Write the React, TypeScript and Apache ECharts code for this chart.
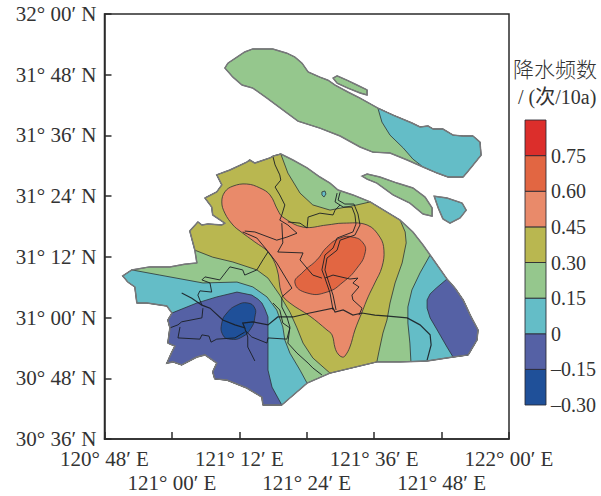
import React, { useEffect, useRef } from "react";
import * as echarts from "echarts";

type P = number[];

const xTickLabels = ["120° 48′ E", "121° 00′ E", "121° 12′ E", "121° 24′ E", "121° 36′ E", "121° 48′ E", "122° 00′ E"];
const yTickLabels = ["30° 36′ N", "30° 48′ N", "31° 00′ N", "31° 12′ N", "31° 24′ N", "31° 36′ N", "31° 48′ N", "32° 00′ N"];
const legendTickLabels = ["–0.30", "–0.15", "0", "0.15", "0.30", "0.45", "0.60", "0.75", ""];
const legendEdges = [-0.3, -0.15, 0, 0.15, 0.3, 0.45, 0.6, 0.75, 0.9];
const legendColors = ["#1F5099", "#5561A5", "#64BDC7", "#95C78D", "#B9B750", "#E98A6A", "#E26642", "#DC2E2B"];
const legendTitle = "降水频数";
const legendUnit = "/ (次/10a)";

// lon, lat in degrees
const mainlandCoast: P[] = [
  [121.323, 31.539], [121.359, 31.519], [121.401, 31.493], [121.439, 31.463], [121.469, 31.443], [121.493, 31.42],
  [121.537, 31.404], [121.588, 31.381], [121.677, 31.321], [121.715, 31.282], [121.745, 31.239], [121.766, 31.206],
  [121.816, 31.127], [121.84, 31.097], [121.864, 31.058], [121.885, 31.008], [121.908, 30.959], [121.905, 30.926],
  [121.879, 30.877], [121.834, 30.87], [121.757, 30.857], [121.677, 30.854], [121.608, 30.854], [121.469, 30.817],
  [121.401, 30.784], [121.35, 30.735], [121.326, 30.712], [121.27, 30.712], [121.267, 30.738], [121.222, 30.768],
  [121.163, 30.794], [121.127, 30.798], [121.121, 30.821], [121.133, 30.85], [121.098, 30.877], [121.074, 30.87],
  [121.029, 30.844], [121.003, 30.854], [120.985, 30.85], [121.0, 30.887], [121.009, 30.906], [120.988, 30.916],
  [120.994, 30.966], [120.988, 30.992], [121.0, 31.015], [120.985, 31.038], [120.926, 31.048], [120.896, 31.048],
  [120.89, 31.101], [120.869, 31.117], [120.854, 31.137], [120.881, 31.157], [120.934, 31.167], [120.994, 31.167],
  [121.038, 31.176], [121.074, 31.18], [121.068, 31.222], [121.053, 31.285], [121.077, 31.315], [121.089, 31.305],
  [121.107, 31.308], [121.148, 31.305], [121.157, 31.311], [121.121, 31.338], [121.118, 31.364], [121.098, 31.394],
  [121.133, 31.414], [121.148, 31.437], [121.133, 31.47], [121.172, 31.486], [121.222, 31.512], [121.231, 31.519],
  [121.246, 31.509], [121.291, 31.526], [121.3, 31.532],
];
const northWedgeEdge: P[] = [[121.344, 31.476], [121.38, 31.41], [121.418, 31.371], [121.469, 31.354], [121.549, 31.371]];
const eastOliveEdge: P[] = [
  [121.692, 31.282], [121.695, 31.246], [121.683, 31.18], [121.662, 31.114], [121.647, 31.048], [121.638, 30.992],
  [121.626, 30.949], [121.614, 30.887],
];
const westOliveEdge: P[] = [
  [121.418, 30.867], [121.389, 30.916], [121.371, 30.966], [121.35, 31.018], [121.32, 31.074], [121.285, 31.13],
  [121.252, 31.157], [121.181, 31.183], [121.121, 31.199],
];
const salmonBand: P[] = [
  [121.148, 31.381], [121.157, 31.414], [121.181, 31.433], [121.222, 31.44], [121.261, 31.427], [121.291, 31.404],
  [121.314, 31.354], [121.329, 31.331], [121.389, 31.298], [121.46, 31.305], [121.508, 31.311], [121.579, 31.305],
  [121.617, 31.265], [121.629, 31.222], [121.623, 31.166], [121.602, 31.114], [121.582, 31.068], [121.564, 31.018],
  [121.543, 30.959], [121.528, 30.903], [121.513, 30.873], [121.505, 30.87], [121.493, 30.88], [121.484, 30.9],
  [121.475, 30.943], [121.46, 30.959], [121.409, 31.005], [121.35, 31.048], [121.326, 31.078], [121.311, 31.163],
  [121.285, 31.216], [121.246, 31.249], [121.202, 31.285], [121.181, 31.305], [121.157, 31.344],
];
const orangeCore: P[] = [
  [121.365, 31.114], [121.389, 31.15], [121.43, 31.19], [121.46, 31.232], [121.499, 31.262], [121.537, 31.265],
  [121.567, 31.246], [121.573, 31.213], [121.549, 31.163], [121.508, 31.117], [121.46, 31.084], [121.401, 31.081],
];
const eastTealEdge: P[] = [[121.709, 30.855], [121.706, 30.916], [121.7, 30.982], [121.7, 31.035], [121.712, 31.091], [121.736, 31.147]];
const eastPurpleEdge: P[] = [
  [121.816, 30.903], [121.787, 30.959], [121.766, 30.999], [121.757, 31.031], [121.757, 31.058], [121.766, 31.078],
  [121.784, 31.097],
];
const westTealEdge: P[] = [
  [120.964, 31.14], [121.092, 31.114], [121.193, 31.117], [121.24, 31.101], [121.282, 31.068], [121.311, 31.025],
  [121.329, 30.969], [121.335, 30.926], [121.35, 30.883], [121.38, 30.827],
];
const westPurpleEdge: P[] = [
  [121.074, 31.048], [121.133, 31.068], [121.193, 31.084], [121.237, 31.074], [121.255, 31.061], [121.267, 31.048],
  [121.276, 31.028], [121.285, 31.002], [121.285, 30.916], [121.285, 30.827], [121.297, 30.771],
];
const blueCore: P[] = [
  [121.148, 30.982], [121.163, 31.015], [121.193, 31.041], [121.225, 31.048], [121.246, 31.031], [121.246, 31.002],
  [121.237, 30.969], [121.208, 30.936], [121.172, 30.929], [121.151, 30.943],
];
const tealDot: P[] = [[121.445, 31.414], [121.454, 31.417], [121.457, 31.407], [121.451, 31.397], [121.445, 31.404]];

const chongming: P[] = [
  [121.157, 31.822], [121.166, 31.838], [121.193, 31.858], [121.216, 31.875], [121.24, 31.885], [121.299, 31.885],
  [121.341, 31.871], [121.365, 31.858], [121.386, 31.838], [121.404, 31.809], [121.439, 31.792], [121.463, 31.782],
  [121.484, 31.766], [121.522, 31.743], [121.558, 31.723], [121.611, 31.69], [121.656, 31.667], [121.712, 31.641],
  [121.736, 31.628], [121.76, 31.631], [121.775, 31.621], [121.804, 31.621], [121.834, 31.601], [121.864, 31.598],
  [121.893, 31.598], [121.914, 31.578], [121.917, 31.535], [121.893, 31.502], [121.876, 31.479], [121.864, 31.463],
  [121.819, 31.463], [121.787, 31.476], [121.745, 31.496], [121.698, 31.519], [121.647, 31.542], [121.596, 31.545],
  [121.558, 31.562], [121.499, 31.598], [121.439, 31.624], [121.374, 31.647], [121.329, 31.684], [121.282, 31.723],
  [121.24, 31.756], [121.208, 31.766], [121.181, 31.792],
];
const chongmingTealEdge: P[] = [[121.715, 31.522], [121.686, 31.559], [121.647, 31.601], [121.623, 31.644]];
const smallIsland: P[] = [
  [121.478, 31.789], [121.49, 31.796], [121.519, 31.782], [121.549, 31.766], [121.579, 31.75], [121.579, 31.733],
  [121.558, 31.74], [121.522, 31.756], [121.49, 31.772],
];
const changxing: P[] = [
  [121.564, 31.466], [121.579, 31.473], [121.617, 31.463], [121.668, 31.443], [121.715, 31.427], [121.751, 31.397],
  [121.772, 31.361], [121.772, 31.334], [121.745, 31.341], [121.706, 31.377], [121.656, 31.404], [121.608, 31.443],
  [121.579, 31.456],
];
const hengsha: P[] = [
  [121.778, 31.4], [121.816, 31.394], [121.861, 31.377], [121.873, 31.354], [121.855, 31.328], [121.825, 31.311],
  [121.804, 31.325], [121.79, 31.361],
];

const lineA: P[] = [
  [121.3, 31.529], [121.306, 31.503], [121.32, 31.47], [121.323, 31.453], [121.306, 31.43], [121.32, 31.404],
  [121.335, 31.371], [121.326, 31.338], [121.32, 31.321], [121.344, 31.305], [121.371, 31.278], [121.341, 31.265],
  [121.311, 31.255], [121.246, 31.282], [121.216, 31.285],
];
const lineB: P[] = [
  [121.344, 31.315], [121.38, 31.311], [121.401, 31.295], [121.404, 31.331], [121.439, 31.344], [121.478, 31.338],
  [121.484, 31.354], [121.499, 31.371],
];
const riverWest: P[] = [
  [121.49, 31.41], [121.484, 31.381], [121.508, 31.364], [121.534, 31.364], [121.543, 31.338], [121.546, 31.308],
  [121.537, 31.282], [121.49, 31.262], [121.478, 31.229], [121.454, 31.206], [121.445, 31.157], [121.454, 31.13],
  [121.469, 31.081], [121.478, 31.025],
];
const riverEast: P[] = [
  [121.499, 31.413], [121.493, 31.387], [121.513, 31.374], [121.54, 31.374], [121.552, 31.341], [121.558, 31.305],
  [121.543, 31.272], [121.499, 31.255], [121.49, 31.222], [121.46, 31.196], [121.454, 31.157], [121.463, 31.124],
  [121.478, 31.074], [121.487, 31.025],
];
const lineC: P[] = [
  [121.326, 31.311], [121.329, 31.246], [121.314, 31.216], [121.389, 31.213], [121.38, 31.19], [121.418, 31.14],
  [121.445, 31.13],
];
const lineD: P[] = [
  [121.454, 31.13], [121.478, 31.14], [121.528, 31.127], [121.552, 31.13], [121.537, 31.114], [121.555, 31.101],
  [121.534, 31.074], [121.537, 31.058], [121.564, 31.031], [121.555, 31.008],
];
const lineE: P[] = [
  [121.029, 31.081], [121.059, 31.064], [121.089, 31.041], [121.113, 31.031], [121.151, 30.992], [121.187, 30.976],
  [121.216, 30.966], [121.21, 30.982], [121.24, 30.986], [121.285, 30.976], [121.314, 31.002], [121.359, 31.002],
  [121.409, 31.015], [121.478, 31.031], [121.484, 31.018], [121.508, 31.025], [121.537, 31.008], [121.564, 31.015],
  [121.602, 31.008], [121.641, 31.005], [121.698, 30.999], [121.736, 30.976], [121.766, 30.943], [121.769, 30.91],
  [121.757, 30.86],
];
const lineF: P[] = [[121.216, 30.966], [121.225, 30.936], [121.225, 30.903], [121.237, 30.877], [121.246, 30.857]];
const lineG: P[] = [
  [121.216, 30.959], [121.237, 30.936], [121.282, 30.916], [121.285, 30.933], [121.341, 30.929], [121.35, 30.966],
  [121.329, 30.982], [121.32, 31.025], [121.3, 31.048],
];
const lineH: P[] = [[120.994, 30.966], [121.018, 30.976], [121.029, 30.986], [121.089, 30.999], [121.092, 31.031]];
const lineI: P[] = [
  [121.024, 30.969], [121.018, 30.933], [121.083, 30.929], [121.089, 30.943], [121.11, 30.939], [121.116, 30.919],
  [121.133, 30.929], [121.187, 30.933], [121.216, 30.952],
];
const lineJ: P[] = [
  [121.089, 31.041], [121.077, 31.074], [121.083, 31.088], [121.118, 31.084], [121.113, 31.114], [121.089, 31.124],
  [121.098, 31.134], [121.142, 31.124], [121.172, 31.167], [121.21, 31.157], [121.216, 31.14], [121.252, 31.157],
  [121.27, 31.19], [121.285, 31.216],
];
const lineK: P[] = [
  [121.326, 31.035], [121.341, 31.002], [121.35, 30.969], [121.344, 30.916], [121.371, 30.883], [121.404, 30.85],
  [121.418, 30.834], [121.445, 30.811],
];
const lineM: P[] = [
  [121.21, 31.282], [121.252, 31.262], [121.282, 31.222], [121.311, 31.18], [121.356, 31.097], [121.326, 31.068],
  [121.326, 31.035],
];

const [cBlue, cPurple, cTeal, cGreen, cOlive, cSalmon, cOrange] = legendColors;
const FONT = "'Liberation Serif', 'Noto Sans CJK SC', serif";
const EDGE = "rgba(40,45,50,0.85)";
const COAST = "#77787a";

const polygon = (ring: P[], fill: string, smooth = 0) => ({
  type: "custom",
  coordinateSystem: "cartesian2d",
  xAxisIndex: 0,
  yAxisIndex: 0,
  silent: true,
  data: ring,
  renderItem: (params: any, api: any) => {
    if (params.dataIndex !== 0) return null;
    return {
      type: "polygon",
      shape: { points: ring.map((p) => api.coord(p)), smooth },
      style: { fill, stroke: EDGE, lineWidth: 0.9 },
    };
  },
});

const outline = (ring: P[]) => ({
  type: "custom",
  coordinateSystem: "cartesian2d",
  xAxisIndex: 0,
  yAxisIndex: 0,
  silent: true,
  data: ring,
  renderItem: (params: any, api: any) => {
    if (params.dataIndex !== 0) return null;
    return {
      type: "polygon",
      shape: { points: ring.map((p) => api.coord(p)) },
      style: { fill: "none", stroke: COAST, lineWidth: 1.5 },
    };
  },
});

const polyline = (pts: P[], lineWidth = 1) => ({
  type: "custom",
  coordinateSystem: "cartesian2d",
  xAxisIndex: 0,
  yAxisIndex: 0,
  silent: true,
  data: pts,
  renderItem: (params: any, api: any) => {
    if (params.dataIndex !== 0) return null;
    return {
      type: "polyline",
      shape: { points: pts.map((p) => api.coord(p)) },
      style: { fill: "none", stroke: "rgba(25,30,35,0.9)", lineWidth },
    };
  },
});

const buildOption = () => {
  const c = mainlandCoast;
  const oliveRing = [c[0], ...northWedgeEdge, c[7], c[8], ...eastOliveEdge, c[22], c[23], ...westOliveEdge, ...c.slice(56)];
  const eastTealRing = [...c.slice(11, 21), ...eastTealEdge];
  const eastPurpleRing = [...c.slice(12, 20), ...eastPurpleEdge];
  const westTealRing = [...c.slice(24, 52), ...westTealEdge];
  const westPurpleRing = [...c.slice(26, 45), ...westPurpleEdge];
  const chongmingTealRing = [...chongming.slice(15, 33), ...chongmingTealEdge];

  const mapSeries = [
    polygon(c, cGreen),
    polygon(oliveRing, cOlive),
    polygon(salmonBand, cSalmon, 0.4),
    polygon(orangeCore, cOrange, 0.5),
    polygon(eastTealRing, cTeal),
    polygon(eastPurpleRing, cPurple),
    polygon(westTealRing, cTeal),
    polygon(westPurpleRing, cPurple),
    polygon(blueCore, cBlue, 0.5),
    polygon(tealDot, cTeal),
    polygon(chongming, cGreen),
    polygon(chongmingTealRing, cTeal),
    polygon(smallIsland, cGreen),
    polygon(changxing, cGreen),
    polygon(hengsha, cTeal),
    ...[lineA, lineB, lineC, lineD, lineF, lineG, lineH, lineI, lineJ, lineK, lineM].map((l) => polyline(l)),
    polyline(riverWest),
    polyline(riverEast),
    polyline(lineE, 1.2),
    ...[c, chongming, smallIsland, changxing, hengsha].map(outline),
  ];

  const legendData = legendColors.map((_, i) => [0, legendEdges[i]]);
  const legendSeries = {
    type: "custom",
    coordinateSystem: "cartesian2d",
    xAxisIndex: 1,
    yAxisIndex: 1,
    silent: true,
    data: legendData,
    renderItem: (params: any, api: any) => {
      const i = params.dataIndex;
      const a = api.coord([0, legendEdges[i + 1]]);
      const b = api.coord([1, legendEdges[i]]);
      return {
        type: "rect",
        shape: { x: a[0], y: a[1], width: b[0] - a[0], height: b[1] - a[1] },
        style: { fill: legendColors[i], stroke: "rgba(40,40,50,0.85)", lineWidth: 1 },
      };
    },
  };

  const xLabelStyle = { fontFamily: FONT, fontSize: 21, lineHeight: 20, color: "#333", hideOverlap: false, showMinLabel: true, showMaxLabel: true };

  return {
    animation: false,
    backgroundColor: "#fff",
    title: [
      { text: legendTitle, left: 513, top: 59, textStyle: { fontFamily: FONT, fontSize: 21, fontWeight: 300, color: "#333" }, padding: 0 },
      { text: legendUnit, left: 518, top: 87, textStyle: { fontFamily: FONT, fontSize: 20, fontWeight: "normal", color: "#333" }, padding: 0 },
    ],
    grid: [
      { left: 104.5, top: 14, width: 404.5, height: 425, show: true, borderColor: "#2b2b2b", borderWidth: 1.5, backgroundColor: "transparent" },
      { left: 525, top: 120, width: 21, height: 285 },
    ],
    xAxis: [
      {
        type: "value",
        gridIndex: 0,
        min: 120.8,
        max: 122,
        interval: 0.2,
        splitLine: { show: false },
        axisLine: { show: true, lineStyle: { color: "#2b2b2b", width: 1.5 } },
        axisTick: { show: true, inside: true, length: 7, lineStyle: { color: "#2b2b2b", width: 1.5 } },
        axisLabel: { ...xLabelStyle, margin: 10, formatter: (_: number, i: number) => (i % 2 ? "" : xTickLabels[i]) },
      },
      { type: "value", gridIndex: 1, min: 0, max: 1, show: false },
      {
        type: "value",
        gridIndex: 0,
        position: "bottom",
        min: 120.8,
        max: 122,
        interval: 0.2,
        splitLine: { show: false },
        axisLine: { show: false },
        axisTick: { show: false },
        axisLabel: { ...xLabelStyle, margin: 34, formatter: (_: number, i: number) => (i % 2 ? xTickLabels[i] : "") },
      },
    ],
    yAxis: [
      {
        type: "value",
        gridIndex: 0,
        min: 30.6,
        max: 32,
        interval: 0.2,
        splitLine: { show: false },
        axisLine: { show: true, lineStyle: { color: "#2b2b2b", width: 1.5 } },
        axisTick: { show: true, inside: true, length: 7, lineStyle: { color: "#2b2b2b", width: 1.5 } },
        axisLabel: {
          fontFamily: FONT,
          fontSize: 21,
          lineHeight: 17,
          color: "#333",
          margin: 8,
          hideOverlap: false,
          showMinLabel: true,
          showMaxLabel: true,
          formatter: (_: number, i: number) => yTickLabels[i],
        },
      },
      {
        type: "value",
        gridIndex: 1,
        position: "right",
        min: -0.3,
        max: 0.9,
        interval: 0.15,
        splitLine: { show: false },
        axisLine: { show: false },
        axisTick: { show: false },
        axisLabel: {
          fontFamily: FONT,
          fontSize: 20,
          color: "#333",
          margin: 5,
          padding: [0, 0, 3, 0],
          hideOverlap: false,
          showMinLabel: true,
          showMaxLabel: true,
          formatter: (_: number, i: number) => legendTickLabels[i],
        },
      },
    ],
    series: [...mapSeries, legendSeries],
  };
};

export default function App() {
  const ref = useRef<HTMLDivElement>(null);
  useEffect(() => {
    if (!ref.current) return;
    const chart = echarts.init(ref.current, undefined, { renderer: "svg" });
    chart.setOption(buildOption() as any);
    return () => chart.dispose();
  }, []);
  return <div ref={ref} style={{ position: "fixed", left: 0, top: 0, width: 601, height: 496 }} />;
}
